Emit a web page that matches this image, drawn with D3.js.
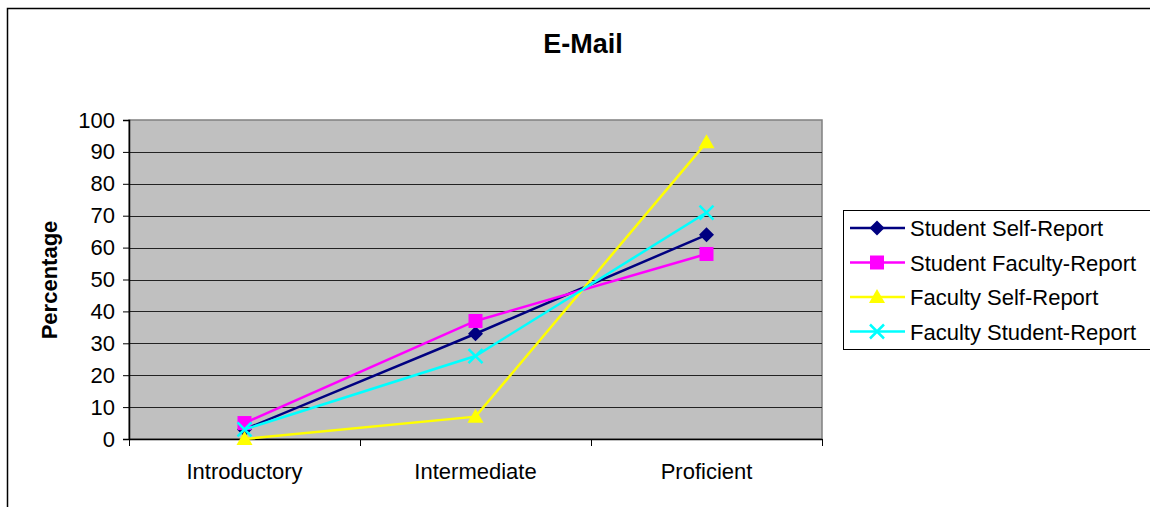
<!DOCTYPE html>
<html>
<head>
<meta charset="utf-8">
<script src="https://cdn.jsdelivr.net/npm/d3@7"></script>
<style>
  html, body { margin: 0; padding: 0; background: #fff; }
  svg { display: block; font-family: Arial, "Liberation Sans", sans-serif; }
</style>
</head>
<body>
<svg id="chart" width="1150" height="507"></svg>
<script>
const categories = ["Introductory", "Intermediate", "Proficient"];
const seriesNames = ["Student Self-Report", "Student Faculty-Report", "Faculty Self-Report", "Faculty Student-Report"];
const studentSelf = [3, 33, 64];
const studentFaculty = [5, 37, 58];
const facultySelf = [0, 7, 93];
const facultyStudent = [3, 26, 71];
const yTicks = [0, 10, 20, 30, 40, 50, 60, 70, 80, 90, 100];
const title = "E-Mail";
const yLabel = "Percentage";

const colors = ["#000080", "#FF00FF", "#FFFF00", "#00FFFF"];
const markers = ["diamond", "square", "triangle", "x"];
const seriesValues = [studentSelf, studentFaculty, facultySelf, facultyStudent];
const FONT = "Arial, 'Liberation Sans', sans-serif";

const svg = d3.select("#chart");

// outer chart border
svg.append("rect").attr("x", 7.5).attr("y", 8.5).attr("width", 1160).attr("height", 520)
  .attr("fill", "#fff").attr("stroke", "#000").attr("stroke-width", 1.5);

const plot = { left: 129, right: 822, top: 120, bottom: 439 };

const x = d3.scaleBand().domain(categories).range([plot.left, plot.right]).paddingInner(0).paddingOuter(0);
const y = d3.scaleLinear().domain([0, 100]).range([plot.bottom, plot.top]);

// plot area
svg.append("rect").attr("x", plot.left).attr("y", plot.top)
  .attr("width", plot.right - plot.left).attr("height", plot.bottom - plot.top)
  .attr("fill", "#C0C0C0").attr("stroke", "#808080").attr("stroke-width", 1.5);

// gridlines
svg.append("g").selectAll("line").data(yTicks.filter(d => d > 0 && d < 100)).join("line")
  .attr("x1", plot.left).attr("x2", plot.right)
  .attr("y1", d => Math.round(y(d)) + 0.5).attr("y2", d => Math.round(y(d)) + 0.5)
  .attr("stroke", "#222").attr("stroke-width", 1);

// y axis
const yAxis = d3.axisLeft(y).tickValues(yTicks).tickSize(6).tickPadding(8).tickFormat(d3.format("d"));
const gy = svg.append("g").attr("transform", `translate(${plot.left},0)`).call(yAxis);
gy.select(".domain").attr("stroke", "#000").attr("stroke-width", 1.5);
gy.selectAll(".tick line").attr("stroke", "#000");
gy.selectAll(".tick text").attr("font-size", 22).attr("fill", "#000").attr("font-family", FONT);

// x axis
const xAxis = d3.axisBottom(x).tickSize(0).tickPadding(24);
const gx = svg.append("g").attr("transform", `translate(0,${plot.bottom})`).call(xAxis);
gx.select(".domain").attr("stroke", "#000").attr("stroke-width", 1.5);
gx.selectAll(".tick text").attr("font-size", 22).attr("fill", "#000").attr("font-family", FONT);
// category separator ticks
const sepX = categories.map(c => x(c)).concat([x(categories[categories.length - 1]) + x.bandwidth()]);
svg.append("g").selectAll("line").data(sepX).join("line")
  .attr("x1", d => Math.round(d) + 0.5).attr("x2", d => Math.round(d) + 0.5)
  .attr("y1", plot.bottom).attr("y2", plot.bottom + 7)
  .attr("stroke", "#000").attr("stroke-width", 1);

// title
svg.append("text").attr("x", 583).attr("y", 53).attr("text-anchor", "middle")
  .attr("font-size", 27).attr("font-weight", "bold").text(title);

// y label
svg.append("text").attr("transform", "translate(57,280) rotate(-90)").attr("text-anchor", "middle")
  .attr("font-size", 22).attr("font-weight", "bold").text(yLabel);

function drawMarker(g, type, color, cx, cy) {
  if (type === "diamond") {
    g.append("path").attr("d", `M${cx},${cy-7.5}L${cx+7.5},${cy}L${cx},${cy+7.5}L${cx-7.5},${cy}Z`).attr("fill", color);
  } else if (type === "square") {
    g.append("rect").attr("x", cx - 7).attr("y", cy - 7).attr("width", 14).attr("height", 14).attr("fill", color);
  } else if (type === "triangle") {
    g.append("path").attr("d", `M${cx},${cy-8}L${cx+8},${cy+6}L${cx-8},${cy+6}Z`).attr("fill", color);
  } else if (type === "x") {
    g.append("path").attr("d", `M${cx-7},${cy-7}L${cx+7},${cy+7}M${cx+7},${cy-7}L${cx-7},${cy+7}`)
      .attr("stroke", color).attr("stroke-width", 2.5).attr("fill", "none");
  }
}

const cx = c => x(c) + x.bandwidth() / 2;
const line = d3.line().x((d, i) => cx(categories[i])).y(d => y(d));

seriesValues.forEach((vals, si) => {
  const g = svg.append("g");
  g.append("path").datum(vals).attr("d", line).attr("fill", "none")
    .attr("stroke", colors[si]).attr("stroke-width", 2.5);
  vals.forEach((v, i) => drawMarker(g, markers[si], colors[si], cx(categories[i]), y(v)));
});

// legend
const lg = svg.append("g");
lg.append("rect").attr("x", 843.5).attr("y", 210.5).attr("width", 320).attr("height", 139)
  .attr("fill", "#fff").attr("stroke", "#000").attr("stroke-width", 1);
seriesNames.forEach((name, si) => {
  const ly = 228 + si * 34.5;
  lg.append("line").attr("x1", 850).attr("x2", 905).attr("y1", ly).attr("y2", ly)
    .attr("stroke", colors[si]).attr("stroke-width", 2.5);
  drawMarker(lg, markers[si], colors[si], 877, ly);
  lg.append("text").attr("x", 910).attr("y", ly + 8).attr("font-size", 22).attr("font-family", FONT).text(name);
});
</script>
</body>
</html>
